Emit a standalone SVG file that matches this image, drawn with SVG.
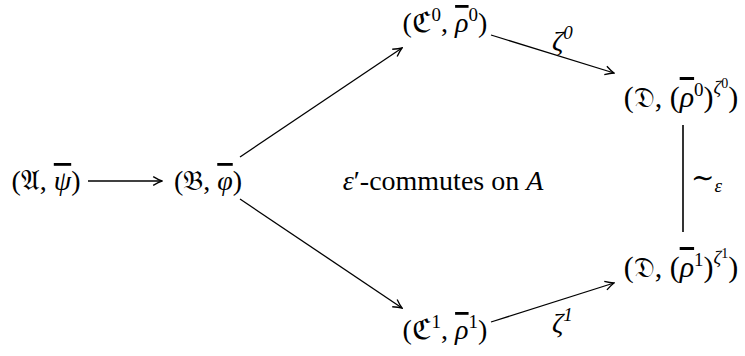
<svg xmlns="http://www.w3.org/2000/svg" width="745" height="356" viewBox="0 0 745 356">
<style>
text{font-family:"Liberation Serif","DejaVu Serif",serif;font-size:28px;fill:#000}
text.big{font-size:30px}
.m{text-anchor:middle}
.i{font-style:italic}
.b{text-decoration:overline;text-decoration-thickness:1.3px}
.fr{font-family:"DejaVu Sans","DejaVu Serif","Noto Sans",serif;font-size:28px}
.sup{font-size:19px}
.ssup{font-size:14px}
.c{stroke:#000;stroke-width:1.3;fill:none}
</style>
<defs>
<marker id="ah" viewBox="0 0 10 10" refX="9" refY="5" markerWidth="11" markerHeight="11" markerUnits="userSpaceOnUse" orient="auto">
<path d="M1,1 Q6,4 9,5 Q6,6 1,9" fill="none" stroke="#000" stroke-width="1.2"/>
</marker>
</defs>
<g id="connectors">
<line class="c" x1="88" y1="181" x2="162" y2="181" marker-end="url(#ah)"/>
<line class="c" x1="240" y1="157" x2="402" y2="48" marker-end="url(#ah)"/>
<line class="c" x1="240" y1="199" x2="402" y2="308" marker-end="url(#ah)"/>
<line class="c" x1="491" y1="35" x2="614" y2="73" marker-end="url(#ah)"/>
<line class="c" x1="491" y1="322" x2="614" y2="283" marker-end="url(#ah)"/>
<line x1="683" y1="125" x2="683" y2="232" stroke="#000" stroke-width="1.6"/>
<text class="i" x="552" y="50">ζ<tspan class="sup" dy="-11">0</tspan></text>
<text class="i" x="552" y="332">ζ<tspan class="sup" dy="-11">1</tspan></text>
<text x="691" y="187">∼<tspan class="i sup" dy="5">ε</tspan></text>
</g>
<g id="nA"><text class="m" x="46" y="190">(<tspan class="fr">𝔄</tspan>, <tspan class="i b">ψ</tspan>)</text></g>
<g id="nB"><text class="m" x="208" y="190">(<tspan class="fr">𝔅</tspan>, <tspan class="i b">φ</tspan>)</text></g>
<g id="nC0"><text class="m" x="445" y="32">(<tspan class="fr">ℭ</tspan><tspan class="sup" dy="-11">0</tspan><tspan dy="11">, </tspan><tspan class="i b">ρ</tspan><tspan class="sup" dy="-11">0</tspan><tspan dy="11">)</tspan></text></g>
<g id="nC1"><text class="m" x="445" y="339">(<tspan class="fr">ℭ</tspan><tspan class="sup" dy="-11">1</tspan><tspan dy="11">, </tspan><tspan class="i b">ρ</tspan><tspan class="sup" dy="-11">1</tspan><tspan dy="11">)</tspan></text></g>
<g id="nD0"><text class="m big" x="681" y="107">(<tspan class="fr">𝔇</tspan>, (<tspan class="i b">ρ</tspan><tspan class="sup" dy="-11">0</tspan><tspan dy="11">)</tspan><tspan class="i sup" dy="-13">ζ</tspan><tspan class="ssup" dy="-6">0</tspan><tspan dy="19">)</tspan></text></g>
<g id="nD1"><text class="m big" x="681" y="277">(<tspan class="fr">𝔇</tspan>, (<tspan class="i b">ρ</tspan><tspan class="sup" dy="-11">1</tspan><tspan dy="11">)</tspan><tspan class="i sup" dy="-13">ζ</tspan><tspan class="ssup" dy="-6">1</tspan><tspan dy="19">)</tspan></text></g>
<g id="lbl"><text class="m" x="443" y="190"><tspan class="i">ε</tspan>′-commutes on <tspan class="i">A</tspan></text></g>
</svg>
